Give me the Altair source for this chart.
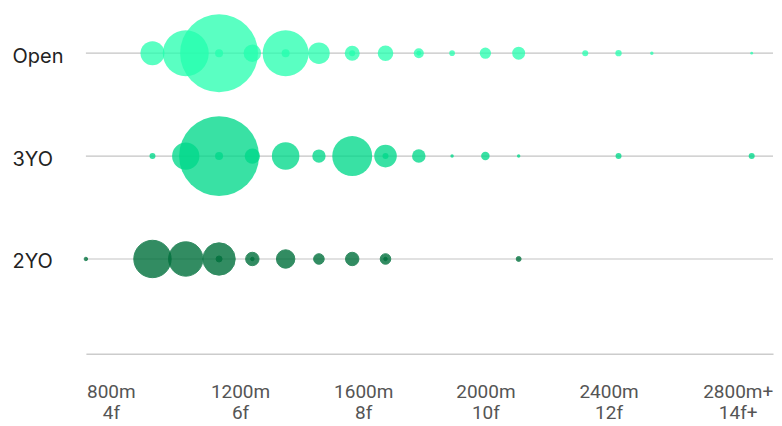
import altair as alt
import pandas as pd

rows = ["Open", "3YO", "2YO"]

# metric-distance races (bubble area ~ number of races)
open_dist = [1000, 1100, 1200, 1300, 1400, 1500, 1600, 1700, 1800, 1900, 2000, 2100, 2300, 2400, 2500, 2800]
open_races = [144, 529, 1521, 76, 529, 117, 56, 61, 25, 8, 32, 42, 9, 10, 3, 2]
# furlong-distance races, drawn on top at the equivalent metric distance
open_f_dist = [1200, 1400, 1600, 1800]
open_f_races = [16, 16, 9, 6]

yo3_dist = [1000, 1100, 1200, 1300, 1400, 1500, 1600, 1700, 1800, 1900, 2000, 2100, 2400, 2800]
yo3_races = [9, 188, 1600, 59, 190, 45, 400, 128, 46, 3, 18, 3, 9, 9]
yo3_f_dist = [1200, 1700]
yo3_f_races = [16, 9]

yo2_dist = [800, 1000, 1100, 1200, 1300, 1400, 1500, 1600, 1700, 2100]
yo2_races = [3, 350, 296, 262, 45, 85, 28, 45, 28, 6]
yo2_f_dist = [1200, 1300, 1700]
yo2_f_races = [9, 3, 3]

tick_values = [800, 1200, 1600, 2000, 2400, 2800]
tick_metric = ["800m", "1200m", "1600m", "2000m", "2400m", "2800m+"]
tick_furlong = ["4f", "6f", "8f", "10f", "12f", "14f+"]

row_colors = ["#23ffad", "#00d98a", "#00703c"]

recs = []
for row, d, r, kind in [
    ("Open", open_dist, open_races, "m"), ("Open", open_f_dist, open_f_races, "f"),
    ("3YO", yo3_dist, yo3_races, "m"), ("3YO", yo3_f_dist, yo3_f_races, "f"),
    ("2YO", yo2_dist, yo2_races, "m"), ("2YO", yo2_f_dist, yo2_f_races, "f"),
]:
    for dd, rr in zip(d, r):
        recs.append({"row": row, "distance": dd, "races": rr, "kind": kind})
df = pd.DataFrame(recs)
rows_df = pd.DataFrame({"row": rows})

label_arr = "[" + ",".join(f"['{m}','{f}']" for m, f in zip(tick_metric, tick_furlong)) + "]"
vals_arr = "[" + ",".join(str(v) for v in tick_values) + "]"
label_expr = f"{label_arr}[indexof({vals_arr}, datum.value)]"
offset_expr = f"[25,21,11,0,-10,-14][indexof({vals_arr}, datum.value)]"

y_enc = alt.Y(
    "row:N",
    sort=rows,
    title=None,
    scale=alt.Scale(type="point", domain=rows, padding=0.65, align=0.291),
    axis=alt.Axis(
        labelAlign="left", labelPadding=74, tickSize=0, ticks=False, domain=False,
        labelFont="Inter", labelFontSize=20, labelColor="#222222",
        labelBaseline="middle", labelOffset=3, grid=False,
    ),
)

x_scale = alt.Scale(domain=[800, 2864], nice=False, zero=False)
x_axis = alt.Axis(
    values=tick_values, labelExpr=label_expr, title=None, ticks=False, tickSize=0,
    grid=False, domainColor="#cccccc", domainWidth=1.5, labelFlush=False,
    labelOverlap=False, labelBound=False, labelPadding=29, labelBaseline="top",
    labelFont="Roboto", labelFontSize=19, labelColor="#555555", labelLineHeight=21,
    labelOffset={"expr": offset_expr},
)

rules = alt.Chart(rows_df).mark_rule(color="#c4c4c4", strokeWidth=1.2).encode(y=y_enc)

# Vega circle radius = sqrt(size)/2
size_scale = alt.Scale(domain=[0, 1600], range=[0, 6400], zero=True)
color_scale = alt.Scale(domain=rows, range=row_colors)
opac_scale = alt.Scale(domain=rows, range=[0.75, 0.8, 0.8])

base = alt.Chart(df).encode(
    x=alt.X("distance:Q", scale=x_scale, axis=x_axis, title=None),
    y=y_enc,
    size=alt.Size("races:Q", scale=size_scale, legend=None),
    color=alt.Color("row:N", scale=color_scale, legend=None),
    opacity=alt.Opacity("row:N", scale=opac_scale, legend=None),
    stroke=alt.Color("row:N", scale=color_scale, legend=None),
    strokeWidth=alt.condition(alt.datum.row == "2YO", alt.value(1), alt.value(0)),
)

bubbles = base.transform_filter(alt.datum.kind == "m").mark_circle()
dots = base.transform_filter(alt.datum.kind == "f").mark_circle()

chart = alt.layer(rules, bubbles, dots).properties(
    width=688, height=340,
    padding={"left": 4, "top": 5, "right": 0, "bottom": 0},
    background="white",
).configure_view(stroke=None)

chart.save("out.html", embed_options={"renderer": "svg", "actions": False})
